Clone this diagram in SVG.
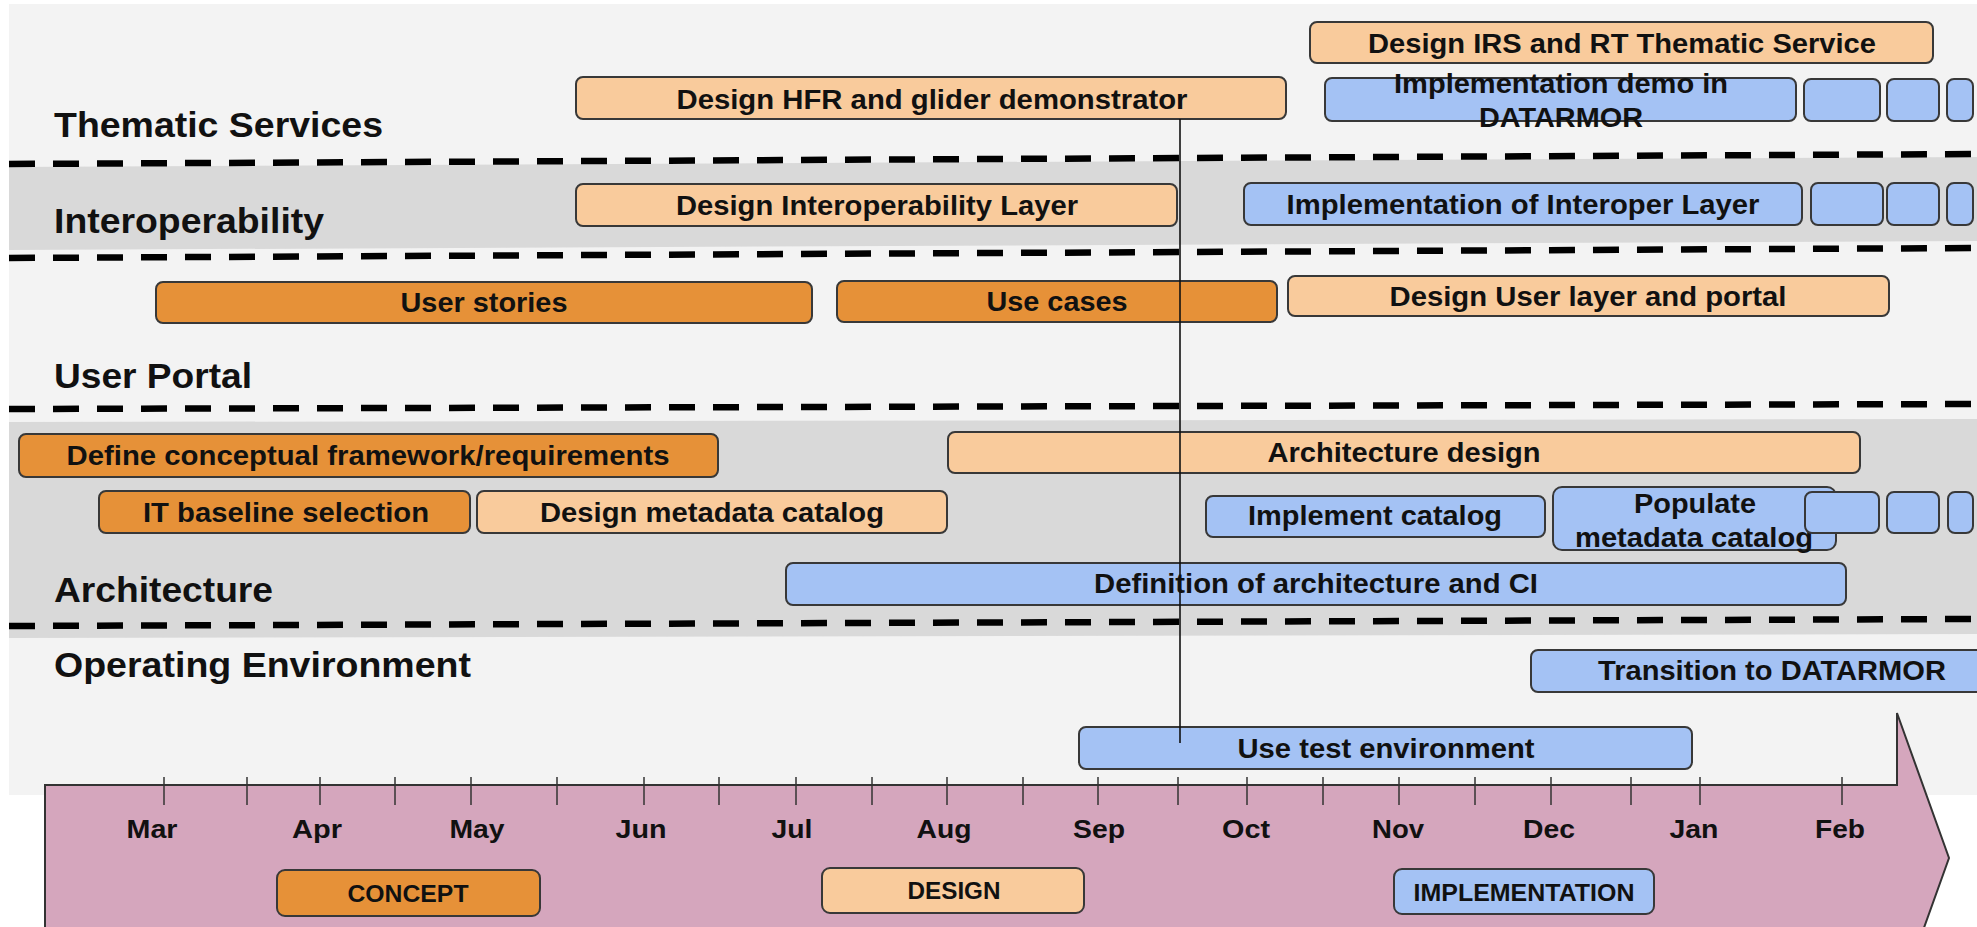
<svg xmlns="http://www.w3.org/2000/svg" width="1977" height="927" viewBox="0 0 1977 927">
<style>
.box{stroke:#383838;stroke-width:2}
.dk{fill:#e69138}
.lt{fill:#f9cb9c}
.bl{fill:#a4c2f4}
.t{font-family:"Liberation Sans",Arial,sans-serif;font-weight:bold;font-size:27px;text-anchor:middle;fill:#111}
.lane{font-family:"Liberation Sans",Arial,sans-serif;font-weight:bold;font-size:35px;fill:#111}
.mo{font-family:"Liberation Sans",Arial,sans-serif;font-weight:bold;font-size:26px;text-anchor:middle;fill:#111}
.ph{font-family:"Liberation Sans",Arial,sans-serif;font-weight:bold;font-size:24px;text-anchor:middle;fill:#111}
.dash{stroke:#000;stroke-width:6.5;stroke-dasharray:26 18}
.tick{stroke:#333;stroke-width:1.5}
</style>
<rect width="1977" height="927" fill="#ffffff"/>
<g id="background">
<rect x="9" y="4" width="1968" height="791" fill="#f3f3f3"/>
<polygon points="9,167 1977,157 1977,241 9,250" fill="#d9d9d9"/>
<polygon points="9,422 1977,419 1977,634 9,638" fill="#d9d9d9"/>
<line class="dash" x1="9" y1="164" x2="1977" y2="154"/>
<line class="dash" x1="9" y1="258" x2="1977" y2="248"/>
<line class="dash" x1="9" y1="409" x2="1977" y2="404"/>
<line class="dash" x1="9" y1="626" x2="1977" y2="619"/>
</g>
<g id="lanes">
<text class="lane" x="54" y="137" textLength="329" lengthAdjust="spacingAndGlyphs">Thematic Services</text>
<text class="lane" x="54" y="233" textLength="270" lengthAdjust="spacingAndGlyphs">Interoperability</text>
<text class="lane" x="54" y="388" textLength="198" lengthAdjust="spacingAndGlyphs">User Portal</text>
<text class="lane" x="54" y="602" textLength="219" lengthAdjust="spacingAndGlyphs">Architecture</text>
<text class="lane" x="54" y="677" textLength="417" lengthAdjust="spacingAndGlyphs">Operating Environment</text>
</g>
<g id="timeline">
<polygon points="45,785 1897,785 1897,713 1949,858 1897,1003 1897,931 45,931" fill="#d5a6bd" stroke="#333" stroke-width="2"/>
<g id="ticks">
<line class="tick" x1="164" y1="777" x2="164" y2="805"/>
<line class="tick" x1="247" y1="777" x2="247" y2="805"/>
<line class="tick" x1="320" y1="777" x2="320" y2="805"/>
<line class="tick" x1="395" y1="777" x2="395" y2="805"/>
<line class="tick" x1="471" y1="777" x2="471" y2="805"/>
<line class="tick" x1="557" y1="777" x2="557" y2="805"/>
<line class="tick" x1="644" y1="777" x2="644" y2="805"/>
<line class="tick" x1="719" y1="777" x2="719" y2="805"/>
<line class="tick" x1="796" y1="777" x2="796" y2="805"/>
<line class="tick" x1="872" y1="777" x2="872" y2="805"/>
<line class="tick" x1="947" y1="777" x2="947" y2="805"/>
<line class="tick" x1="1023" y1="777" x2="1023" y2="805"/>
<line class="tick" x1="1098" y1="777" x2="1098" y2="805"/>
<line class="tick" x1="1178" y1="777" x2="1178" y2="805"/>
<line class="tick" x1="1247" y1="777" x2="1247" y2="805"/>
<line class="tick" x1="1323" y1="777" x2="1323" y2="805"/>
<line class="tick" x1="1399" y1="777" x2="1399" y2="805"/>
<line class="tick" x1="1475" y1="777" x2="1475" y2="805"/>
<line class="tick" x1="1551" y1="777" x2="1551" y2="805"/>
<line class="tick" x1="1631" y1="777" x2="1631" y2="805"/>
<line class="tick" x1="1700" y1="777" x2="1700" y2="805"/>
<line class="tick" x1="1842" y1="777" x2="1842" y2="805"/>
</g>
<g id="months">
<text class="mo" x="152" y="838" textLength="51" lengthAdjust="spacingAndGlyphs">Mar</text>
<text class="mo" x="317" y="838" textLength="50" lengthAdjust="spacingAndGlyphs">Apr</text>
<text class="mo" x="477" y="838" textLength="55" lengthAdjust="spacingAndGlyphs">May</text>
<text class="mo" x="641" y="838" textLength="51" lengthAdjust="spacingAndGlyphs">Jun</text>
<text class="mo" x="792" y="838" textLength="41" lengthAdjust="spacingAndGlyphs">Jul</text>
<text class="mo" x="944" y="838" textLength="55" lengthAdjust="spacingAndGlyphs">Aug</text>
<text class="mo" x="1099" y="838" textLength="52" lengthAdjust="spacingAndGlyphs">Sep</text>
<text class="mo" x="1246" y="838" textLength="48" lengthAdjust="spacingAndGlyphs">Oct</text>
<text class="mo" x="1398" y="838" textLength="52" lengthAdjust="spacingAndGlyphs">Nov</text>
<text class="mo" x="1549" y="838" textLength="52" lengthAdjust="spacingAndGlyphs">Dec</text>
<text class="mo" x="1694" y="838" textLength="49" lengthAdjust="spacingAndGlyphs">Jan</text>
<text class="mo" x="1840" y="838" textLength="50" lengthAdjust="spacingAndGlyphs">Feb</text>
</g>
</g>
<g id="phase-concept"><rect class="box dk" x="277" y="870" width="263" height="46" rx="8"/><text class="ph" x="408" y="902" textLength="121" lengthAdjust="spacingAndGlyphs">CONCEPT</text></g>
<g id="phase-design"><rect class="box lt" x="822" y="868" width="262" height="45" rx="8"/><text class="ph" x="954" y="899" textLength="93" lengthAdjust="spacingAndGlyphs">DESIGN</text></g>
<g id="phase-implementation"><rect class="box bl" x="1394" y="869" width="260" height="45" rx="8"/><text class="ph" x="1524" y="901" textLength="221" lengthAdjust="spacingAndGlyphs">IMPLEMENTATION</text></g>

<g id="design-irs"><rect class="box lt" x="1310" y="22" width="623" height="41" rx="7"/><text class="t" x="1622" y="53" textLength="508" lengthAdjust="spacingAndGlyphs">Design IRS and RT Thematic Service</text></g>
<g id="design-hfr"><rect class="box lt" x="576" y="77" width="710" height="42" rx="7"/><text class="t" x="932" y="109" textLength="511" lengthAdjust="spacingAndGlyphs">Design HFR and glider demonstrator</text></g>
<g id="impl-demo"><rect class="box bl" x="1325" y="78" width="471" height="43" rx="7"/><text class="t" x="1561" y="93" textLength="334" lengthAdjust="spacingAndGlyphs">Implementation demo in</text><text class="t" x="1561" y="127" textLength="164" lengthAdjust="spacingAndGlyphs">DATARMOR</text></g>
<g id="demo-cont"><rect class="box bl" x="1804" y="79" width="76" height="42" rx="7"/><rect class="box bl" x="1887" y="79" width="52" height="42" rx="7"/><rect class="box bl" x="1947" y="79" width="26" height="42" rx="7"/></g>
<g id="design-interop"><rect class="box lt" x="576" y="184" width="601" height="42" rx="7"/><text class="t" x="877" y="215" textLength="402" lengthAdjust="spacingAndGlyphs">Design Interoperability Layer</text></g>
<g id="impl-interop"><rect class="box bl" x="1244" y="183" width="558" height="42" rx="7"/><text class="t" x="1523" y="214" textLength="473" lengthAdjust="spacingAndGlyphs">Implementation of Interoper Layer</text></g>
<g id="interop-cont"><rect class="box bl" x="1811" y="183" width="72" height="42" rx="7"/><rect class="box bl" x="1887" y="183" width="52" height="42" rx="7"/><rect class="box bl" x="1947" y="183" width="26" height="42" rx="7"/></g>
<g id="user-stories"><rect class="box dk" x="156" y="282" width="656" height="41" rx="7"/><text class="t" x="484" y="312" textLength="167" lengthAdjust="spacingAndGlyphs">User stories</text></g>
<g id="use-cases"><rect class="box dk" x="837" y="281" width="440" height="41" rx="7"/><text class="t" x="1057" y="311" textLength="141" lengthAdjust="spacingAndGlyphs">Use cases</text></g>
<g id="design-user"><rect class="box lt" x="1288" y="276" width="601" height="40" rx="7"/><text class="t" x="1588" y="306" textLength="397" lengthAdjust="spacingAndGlyphs">Design User layer and portal</text></g>
<g id="define-framework"><rect class="box dk" x="19" y="434" width="699" height="43" rx="7"/><text class="t" x="368" y="465" textLength="603" lengthAdjust="spacingAndGlyphs">Define conceptual framework/requirements</text></g>
<g id="it-baseline"><rect class="box dk" x="99" y="491" width="371" height="42" rx="7"/><text class="t" x="286" y="522" textLength="286" lengthAdjust="spacingAndGlyphs">IT baseline selection</text></g>
<g id="design-metadata"><rect class="box lt" x="477" y="491" width="470" height="42" rx="7"/><text class="t" x="712" y="522" textLength="344" lengthAdjust="spacingAndGlyphs">Design metadata catalog</text></g>
<g id="arch-design"><rect class="box lt" x="948" y="432" width="912" height="41" rx="7"/><text class="t" x="1404" y="462" textLength="273" lengthAdjust="spacingAndGlyphs">Architecture design</text></g>
<g id="impl-catalog"><rect class="box bl" x="1206" y="496" width="339" height="41" rx="7"/><text class="t" x="1375" y="525" textLength="254" lengthAdjust="spacingAndGlyphs">Implement catalog</text></g>
<g id="populate"><rect class="box bl" x="1553" y="487" width="283" height="63" rx="9"/><text class="t" x="1695" y="513" textLength="122" lengthAdjust="spacingAndGlyphs">Populate</text><text class="t" x="1694" y="547" textLength="238" lengthAdjust="spacingAndGlyphs">metadata catalog</text></g>
<g id="catalog-cont"><rect class="box bl" x="1805" y="492" width="74" height="41" rx="7"/><rect class="box bl" x="1887" y="492" width="52" height="41" rx="7"/><rect class="box bl" x="1948" y="492" width="25" height="41" rx="7"/></g>
<g id="def-arch"><rect class="box bl" x="786" y="563" width="1060" height="42" rx="7"/><text class="t" x="1316" y="593" textLength="444" lengthAdjust="spacingAndGlyphs">Definition of architecture and CI</text></g>
<g id="transition"><rect class="box bl" x="1531" y="650" width="482" height="42" rx="7"/><text class="t" x="1772" y="680" textLength="348" lengthAdjust="spacingAndGlyphs">Transition to DATARMOR</text></g>
<g id="use-test"><rect class="box bl" x="1079" y="727" width="613" height="42" rx="7"/><text class="t" x="1386" y="758" textLength="297" lengthAdjust="spacingAndGlyphs">Use test environment</text></g>

<g id="connectors">
<line x1="1180" y1="119" x2="1180" y2="743" stroke="#111" stroke-width="1.6"/>
</g>
</svg>
